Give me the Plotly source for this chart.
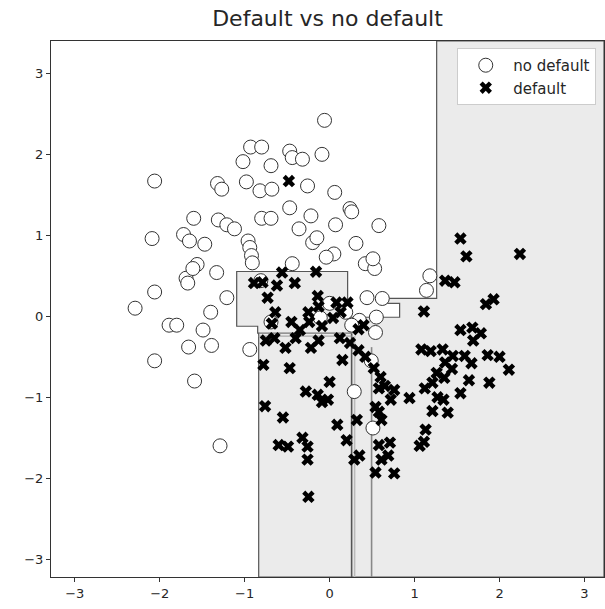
import plotly.graph_objects as go

# ---- data ----
nd_x = [-0.06, -0.93, -0.80, -0.47, -0.44, -0.32, -0.09, -1.02, -0.69, -2.06,
        -1.32, -1.27, -0.98, -0.82, -0.68, -0.26, 0.06, -0.47, -1.60, -0.80,
        -0.69, -0.22, 0.24, 0.26, 0.07, 0.58, -1.31, -1.21, -1.12, -1.72,
        -1.65, -2.09, -1.47, -0.96, -0.94, -0.36, -0.20, -0.15, 0.31, 0.05,
        -0.04, -0.92, -0.91, -1.33, -1.56, -0.44, 0.42, 0.53, 0.51, -1.69,
        -1.61, -1.67, -0.81, -2.06, -1.21, -2.29, 1.18, 1.14, 0.44, 0.62,
        -1.40, -1.89, -1.80, -1.49, 0.00, 0.19, -0.11, 0.35, 0.55, 0.54,
        -0.69, 0.26, -1.39, -1.66, -0.94, -1.59, -2.06, 0.49, 0.29, 0.51,
        -1.29]
nd_y = [2.42, 2.09, 2.09, 2.04, 1.96, 1.94, 2.00, 1.91, 1.86, 1.67,
        1.64, 1.57, 1.66, 1.55, 1.57, 1.61, 1.53, 1.34, 1.21, 1.21,
        1.21, 1.24, 1.33, 1.29, 1.13, 1.12, 1.19, 1.13, 1.08, 1.01,
        0.93, 0.96, 0.89, 0.93, 0.85, 1.08, 0.91, 0.97, 0.90, 0.77,
        0.73, 0.75, 0.66, 0.54, 0.64, 0.65, 0.65, 0.59, 0.71, 0.47,
        0.59, 0.41, 0.44, 0.30, 0.23, 0.10, 0.50, 0.32, 0.23, 0.22,
        0.05, -0.11, -0.11, -0.17, 0.16, 0.05, -0.02, -0.05, -0.01, -0.20,
        -0.07, -0.11, -0.36, -0.38, -0.41, -0.80, -0.55, -0.55, -0.93, -1.38,
        -1.60]

d_x = [-0.48, -0.56, -0.79, -0.16, -0.62, -0.41, -0.73, -0.14, -0.13, 0.08,
       0.04, 0.13, -0.25, -0.64, -0.68, -0.45, -0.35, -0.09, -0.24, 0.21,
       0.34, 0.40, 0.12, -0.65, -0.52, -0.75, -0.22, -0.13, -0.40, -0.78,
       -0.47, 0.00, -0.28, -0.14, -0.09, -0.02, -0.55, -0.76, -0.32, -0.26,
       -0.26, -0.60, -0.49, -0.25, 0.09, 0.32, 0.29, 0.35, 0.20, 0.54,
       0.76, 0.61, 0.69, 0.58, 0.71, 0.61, 0.58, 0.54, 0.72, 0.58,
       0.65, 0.60, 0.76, 0.94, 0.52, 0.42, 0.34, 0.24, 0.15, 1.11,
       1.06, 1.13, 1.21, 1.34, 1.27, 1.39, 1.54, 1.12, 1.21, 1.35,
       1.26, 1.44, 1.36, 1.08, 1.19, 1.33, 1.45, 1.59, 1.67, 1.86,
       2.00, 2.11, 1.88, 1.64, 1.54, 1.68, 1.78, 1.69, 1.84, 1.93,
       1.11, 1.36, 1.47, 1.54, 1.61, 2.24, -0.89]
d_y = [1.67, 0.54, 0.42, 0.55, 0.38, 0.41, 0.23, 0.25, 0.12, 0.17,
       -0.02, 0.05, 0.05, 0.05, -0.09, -0.07, -0.17, -0.12, -0.07, 0.17,
       -0.16, -0.11, -0.27, -0.27, -0.39, -0.30, -0.39, -0.30, -0.27, -0.60,
       -0.64, -0.81, -0.93, -0.97, -1.06, -1.03, -1.25, -1.11, -1.50, -1.61,
       -1.77, -1.59, -1.61, -2.23, -1.34, -1.28, -1.77, -1.72, -1.53, -1.93,
       -1.94, -1.77, -1.72, -1.59, -1.56, -1.28, -1.18, -1.12, -1.03, -0.89,
       -0.86, -0.75, -0.91, -1.01, -0.64, -0.50, -0.42, -0.33, -0.54, -1.55,
       -1.60, -1.40, -1.17, -1.03, -1.00, -1.19, -0.95, -0.89, -0.82, -0.76,
       -0.70, -0.65, -0.57, -0.41, -0.43, -0.41, -0.49, -0.49, -0.58, -0.48,
       -0.50, -0.66, -0.82, -0.79, -0.17, -0.14, -0.21, -0.30, 0.15, 0.21,
       0.06, 0.44, 0.42, 0.96, 0.74, 0.77, 0.41]

# decision-region boundary (predicted "default" area), data units
X_MIN, X_MAX = -3.28, 3.23
Y_MIN, Y_MAX = -3.22, 3.40
region_x = [1.26, X_MAX, X_MAX, -0.835, -0.835, -0.847, -0.847, -1.094, -1.094,
            0.212, 0.212, 0.824, 0.824, 0.67, 0.67, 1.26, 1.26]
region_y = [Y_MAX, Y_MAX, Y_MIN, Y_MIN, -0.209, -0.209, -0.123, -0.123, 0.553,
            0.553, -0.012, -0.012, 0.16, 0.16, 0.221, 0.221, Y_MAX]

# inner split lines of the tree
split_v_x = [0.259, 0.294, 0.494]
split_v_top = [-0.209, -0.246, -0.381]
split_v_col = ["#555555", "#bbbbbb", "#888888"]
split_h_y = [-0.209, -0.246]
split_h_col = ["#777777", "#aaaaaa"]

fig = go.Figure()

fig.add_trace(go.Scatter(
    x=region_x, y=region_y, mode="lines", fill="toself",
    fillcolor="#ebebeb", line=dict(color="#555555", width=1.2),
    hoverinfo="skip", showlegend=False))

for xv, yt, c in zip(split_v_x, split_v_top, split_v_col):
    fig.add_trace(go.Scatter(x=[xv, xv], y=[Y_MIN, yt], mode="lines",
                             line=dict(color=c, width=1.6),
                             hoverinfo="skip", showlegend=False))
for yv, c in zip(split_h_y, split_h_col):
    fig.add_trace(go.Scatter(x=[-0.835, 0.259], y=[yv, yv], mode="lines",
                             line=dict(color=c, width=1.2),
                             hoverinfo="skip", showlegend=False))

fig.add_trace(go.Scatter(
    x=nd_x, y=nd_y, mode="markers", name="no default",
    marker=dict(symbol="circle", size=14, color="white",
                line=dict(color="#333333", width=1))))
fig.add_trace(go.Scatter(
    x=d_x, y=d_y, mode="markers", name="default",
    marker=dict(symbol="x", size=11, color="black",
                line=dict(color="black", width=0))))

axis_common = dict(showgrid=False, zeroline=False, showline=True,
                   linecolor="#333333", linewidth=1, mirror=True,
                   ticks="outside", ticklen=4, tickcolor="#333333",
                   tickfont=dict(family="DejaVu Sans", size=13, color="#262626"),
                   dtick=1)

fig.update_layout(
    width=605, height=609,
    margin=dict(l=51, r=1, t=41, b=32),
    paper_bgcolor="white", plot_bgcolor="white",
    title=dict(text="Default vs no default", x=0.5, xref="paper",
               y=0.97, yref="container", yanchor="middle",
               font=dict(family="DejaVu Sans", size=22, color="#262626")),
    xaxis=dict(range=[X_MIN, X_MAX], **axis_common),
    yaxis=dict(range=[Y_MIN, Y_MAX], **axis_common),
    legend=dict(x=0.986, y=0.987, xanchor="right", yanchor="top",
                bgcolor="white", bordercolor="#cccccc", borderwidth=1,
                itemwidth=45,
                font=dict(family="DejaVu Sans", size=15, color="#262626")),
    showlegend=True,
)

fig.write_html("out.html")
